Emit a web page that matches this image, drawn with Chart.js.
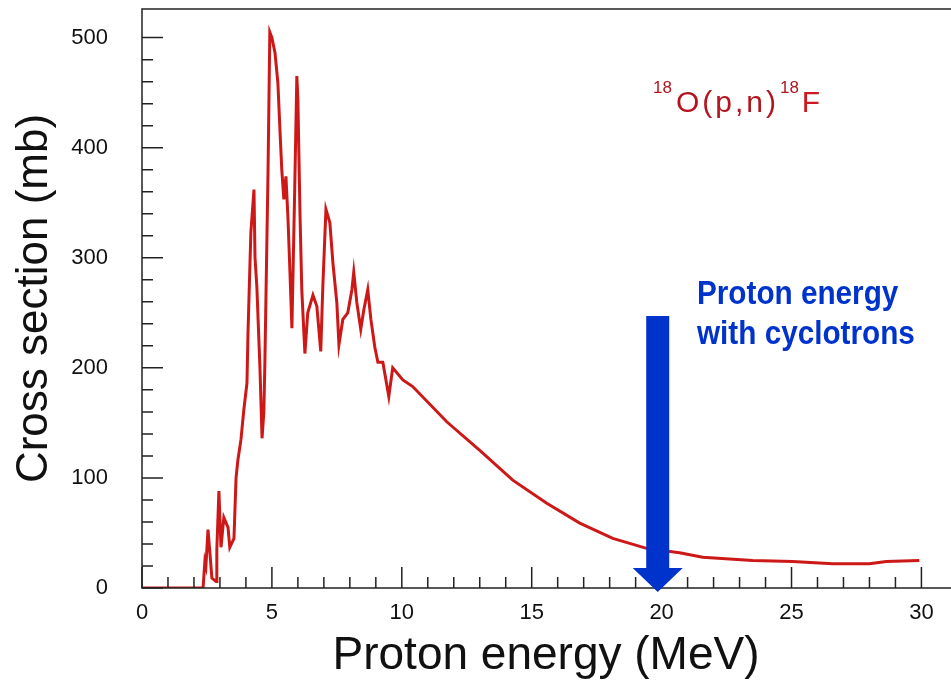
<!DOCTYPE html>
<html>
<head>
<meta charset="utf-8">
<script src="https://cdn.jsdelivr.net/npm/chart.js@4.4.1/dist/chart.umd.min.js"></script>
<style>
    html, body { margin: 0; padding: 0; background: #fff; overflow: hidden; }
    #wrap { width: 951px; height: 688px; position: relative; }
</style>
</head>
<body>
<div id="wrap"><canvas id="xsChart"></canvas></div>
<script>
// Proton energy (MeV) and 18O(p,n)18F cross section (mb)
const energy = [
    0, 2.35, 2.42, 2.46, 2.54, 2.62, 2.69, 2.85, 2.88, 2.96, 3.04, 3.15, 3.31, 3.38, 3.54,
    3.62, 3.69, 3.81, 3.92, 4.04, 4.08, 4.19, 4.31, 4.35, 4.42, 4.54, 4.62, 4.69, 4.73,
    4.85, 4.92, 5.0, 5.12, 5.23, 5.31, 5.38, 5.46, 5.54, 5.62, 5.69, 5.77, 5.88, 5.96,
    6.0, 6.08, 6.15, 6.27, 6.38, 6.58, 6.73, 6.88, 6.96, 7.08, 7.23, 7.35, 7.5, 7.58,
    7.73, 7.92, 8.08, 8.15, 8.27, 8.42, 8.54, 8.69, 8.81, 8.96, 9.08, 9.27, 9.5, 9.65,
    10.04, 10.42, 11.73, 13.0, 14.27, 15.58, 16.85, 18.12, 19.42, 20.69, 21.58, 23.5,
    25.04, 26.58, 28.0, 28.65, 29.92
];
const crossSection = [
    0, 0, 24, 20, 53, 30, 9, 6, 35, 88, 37, 64, 55, 37, 45,
    100, 116, 135, 162, 186, 232, 323, 362, 300, 274, 200, 136, 160, 205,
    377, 505, 500, 486, 459, 416, 380, 353, 374, 335, 290, 236, 365, 465,
    444, 341, 271, 213, 250, 266, 256, 215, 274, 344, 332, 295, 259, 221,
    244, 250, 271, 287, 259, 235, 253, 271, 244, 219, 205, 205, 174, 200,
    189, 183, 151, 125, 98, 77, 59, 45, 36, 32, 28, 25,
    24, 22, 22, 24, 25
];

// Axis ranges and labelled ticks
const xRange = [0, 31.1];
const yRange = [0, 526];
const xLabelled = [0, 5, 10, 15, 20, 25, 30];
const yLabelled = [0, 100, 200, 300, 400, 500];

// Annotation: arrow at cyclotron energy
const arrowEnergy = 19.85;
const arrowTop = 247;

const fontFamily = "'Liberation Sans', Arial, sans-serif";

// Inward ticks, frame and annotations
const framePlugin = {
    id: 'frame',
    afterDatasetsDraw(chart) {
        const ctx = chart.ctx;
        const area = chart.chartArea;
        const xs = chart.scales.x;
        const ys = chart.scales.y;

        ctx.save();
        ctx.strokeStyle = '#222';
        ctx.lineWidth = 1.5;
        ctx.beginPath();
        ctx.moveTo(area.right + 2, area.top);
        ctx.lineTo(area.left, area.top);
        ctx.lineTo(area.left, area.bottom);
        ctx.lineTo(area.right + 2, area.bottom);
        ctx.stroke();

        // x ticks point up into the plot
        ctx.beginPath();
        xs.ticks.forEach(t => {
            if (Math.abs(t.value - Math.round(t.value)) > 1e-6) return;
            const px = xs.getPixelForValue(t.value);
            const len = t.value % 5 === 0 ? 21 : 11;
            ctx.moveTo(px, area.bottom);
            ctx.lineTo(px, area.bottom - len);
        });
        // y ticks point right into the plot
        ys.ticks.forEach(t => {
            if (t.value % 20 !== 0) return;
            const py = ys.getPixelForValue(t.value);
            const len = t.value % 100 === 0 ? 21 : 11;
            ctx.moveTo(area.left, py);
            ctx.lineTo(area.left + len, py);
        });
        ctx.stroke();

        // reaction label
        ctx.fillStyle = '#b3141e';
        ctx.textBaseline = 'alphabetic';
        let tx = 653;
        ctx.font = '17px ' + fontFamily;
        ctx.fillText('18', tx, 93);
        tx += ctx.measureText('18').width + 4;
        ctx.font = '30px ' + fontFamily;
        ctx.letterSpacing = '3px';
        ctx.fillText('O(p,n)', tx, 112);
        tx += ctx.measureText('O(p,n)').width + 1;
        ctx.letterSpacing = '0px';
        ctx.font = '17px ' + fontFamily;
        ctx.fillText('18', tx, 93);
        tx += ctx.measureText('18').width + 3;
        ctx.font = '30px ' + fontFamily;
        ctx.fillStyle = '#cc1822';
        ctx.fillText('F', tx, 112);

        // blue arrow
        const ax = xs.getPixelForValue(arrowEnergy);
        const aTop = ys.getPixelForValue(arrowTop);
        const tip = area.bottom + 4;
        ctx.fillStyle = '#0033cc';
        ctx.beginPath();
        ctx.moveTo(ax - 11.5, aTop);
        ctx.lineTo(ax + 11.5, aTop);
        ctx.lineTo(ax + 11.5, tip - 24);
        ctx.lineTo(ax + 25, tip - 24);
        ctx.lineTo(ax, tip);
        ctx.lineTo(ax - 25, tip - 24);
        ctx.lineTo(ax - 11.5, tip - 24);
        ctx.closePath();
        ctx.fill();

        // blue note, slightly condensed
        ctx.font = 'bold 33px ' + fontFamily;
        ctx.save();
        ctx.translate(697, 0);
        ctx.scale(0.9, 1);
        ctx.fillText('Proton energy', 0, 304);
        ctx.fillText('with cyclotrons', 0, 344);
        ctx.restore();

        ctx.restore();
    }
};

const xsCtx = document.getElementById('xsChart').getContext('2d');
const xsChart = new Chart(xsCtx, {
    type: 'line',
    data: {
        datasets: [{
            data: energy.map((e, i) => ({ x: e, y: crossSection[i] })),
            borderColor: 'rgb(205, 24, 24)',
            borderWidth: 3,
            pointRadius: 0,
            tension: 0,
            fill: false
        }]
    },
    options: {
        responsive: true,
        maintainAspectRatio: false,
        animation: false,
        layout: {
            padding: { top: 9, right: 1, left: 0, bottom: 0 }
        },
        plugins: {
            legend: { display: false },
            tooltip: { enabled: false }
        },
        scales: {
            x: {
                type: 'linear',
                min: xRange[0],
                max: xRange[1],
                afterFit(scale) {
                    scale.height = 100;
                    scale.paddingLeft = 0;
                    scale.paddingRight = 0;
                },
                grid: { display: false, drawTicks: false },
                border: { display: false },
                ticks: {
                    stepSize: 1,
                    autoSkip: false,
                    maxRotation: 0,
                    padding: 12,
                    color: '#111',
                    font: { family: fontFamily, size: 22 },
                    callback: v => xLabelled.includes(v) ? String(v) : ''
                },
                title: {
                    display: true,
                    text: 'Proton energy (MeV)',
                    color: '#111',
                    padding: { top: 0, bottom: 4 },
                    font: { family: fontFamily, size: 46 }
                }
            },
            y: {
                type: 'linear',
                min: yRange[0],
                max: yRange[1],
                afterFit(scale) {
                    scale.width = 142;
                    scale.paddingTop = 0;
                    scale.paddingBottom = 0;
                },
                grid: { display: false, drawTicks: false },
                border: { display: false },
                ticks: {
                    stepSize: 20,
                    autoSkip: false,
                    padding: 34,
                    color: '#111',
                    font: { family: fontFamily, size: 22 },
                    callback: v => yLabelled.includes(v) ? String(v) : ''
                },
                title: {
                    display: true,
                    text: 'Cross section (mb)',
                    color: '#111',
                    padding: { top: 8, bottom: 0 },
                    font: { family: fontFamily, size: 44 }
                }
            }
        }
    },
    plugins: [framePlugin]
});
</script>
</body>
</html>
